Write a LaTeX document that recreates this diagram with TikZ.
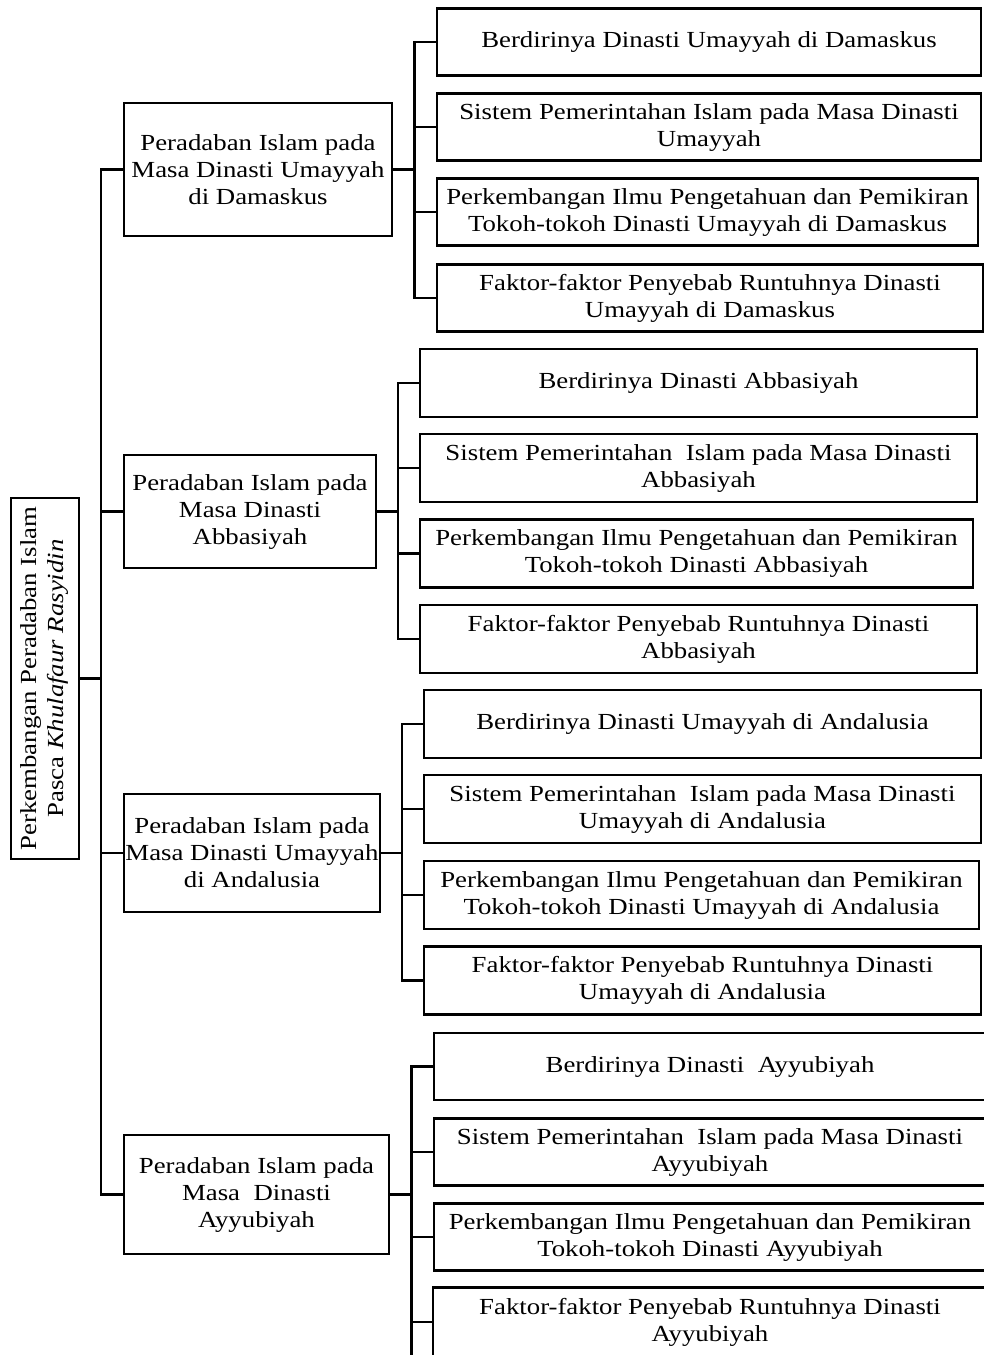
\documentclass[tikz,border=0pt]{standalone}
\usepackage{fontspec}
\setmainfont{Liberation Serif}[FakeStretch=1.165]
\begin{document}
\begin{tikzpicture}[x=1pt,y=-1pt,
  box/.style={draw=black, line width=2.2pt, rectangle, inner sep=0pt, align=center,
    font=\fontsize{23}{27}\selectfont},
  link/.style={draw=black, line width=2.4pt, line cap=rect}]
\useasboundingbox (0,0) rectangle (984,1355);
\clip (0,0) rectangle (984,1355);
% root
\node[box, rotate=90, minimum width=361pt, minimum height=68pt] (root) at (45,678.5)
  {Perkembangan Peradaban Islam\\Pasca \textit{Khulafaur Rasyidin}};
% level 1
\node[box, minimum width=268pt, minimum height=133pt] (La) at (258,169.5)
  {Peradaban Islam pada\\Masa Dinasti Umayyah\\di Damaskus};
\node[box, minimum width=252pt, minimum height=113pt] (Lb) at (250,511.5)
  {Peradaban Islam pada\\Masa Dinasti\\Abbasiyah};
\node[box, minimum width=256pt, minimum height=118pt] (Lc) at (252,853)
  {Peradaban Islam pada\\Masa Dinasti Umayyah\\di Andalusia};
\node[box, minimum width=265pt, minimum height=119pt] (Ld) at (256.5,1194.5)
  {Peradaban Islam pada\\Masa\ \ Dinasti\\Ayyubiyah};
% group a
\node[box, minimum width=544pt, minimum height=67pt] (a1) at (709,42)
  {Berdirinya Dinasti Umayyah di Damaskus};
\node[box, minimum width=544pt, minimum height=67pt] (a2) at (709,127)
  {Sistem Pemerintahan Islam pada Masa Dinasti\\Umayyah};
\node[box, minimum width=541pt, minimum height=67pt] (a3) at (707.5,212)
  {Perkembangan Ilmu Pengetahuan dan Pemikiran\\Tokoh-tokoh Dinasti Umayyah di Damaskus};
\node[box, minimum width=546pt, minimum height=67pt] (a4) at (710,298)
  {Faktor-faktor Penyebab Runtuhnya Dinasti\\Umayyah di Damaskus};
% group b
\node[box, minimum width=557pt, minimum height=68pt] (b1) at (698.5,383)
  {Berdirinya Dinasti Abbasiyah};
\node[box, minimum width=557pt, minimum height=68pt] (b2) at (698.5,468)
  {Sistem Pemerintahan\ \ Islam pada Masa Dinasti\\Abbasiyah};
\node[box, minimum width=553pt, minimum height=68pt] (b3) at (696.5,553.5)
  {Perkembangan Ilmu Pengetahuan dan Pemikiran\\Tokoh-tokoh Dinasti Abbasiyah};
\node[box, minimum width=557pt, minimum height=68pt] (b4) at (698.5,639)
  {Faktor-faktor Penyebab Runtuhnya Dinasti\\Abbasiyah};
% group c
\node[box, minimum width=557pt, minimum height=68pt] (c1) at (702.5,724)
  {Berdirinya Dinasti Umayyah di Andalusia};
\node[box, minimum width=557pt, minimum height=68pt] (c2) at (702.5,809)
  {Sistem Pemerintahan\ \ Islam pada Masa Dinasti\\Umayyah di Andalusia};
\node[box, minimum width=555pt, minimum height=68pt] (c3) at (701.5,895)
  {Perkembangan Ilmu Pengetahuan dan Pemikiran\\Tokoh-tokoh Dinasti Umayyah di Andalusia};
\node[box, minimum width=557pt, minimum height=68pt] (c4) at (702.5,980.5)
  {Faktor-faktor Penyebab Runtuhnya Dinasti\\Umayyah di Andalusia};
% group d
\node[box, minimum width=552pt, minimum height=67pt] (d1) at (710,1066.5)
  {Berdirinya Dinasti\ \ Ayyubiyah};
\node[box, minimum width=552pt, minimum height=67pt] (d2) at (710,1152)
  {Sistem Pemerintahan\ \ Islam pada Masa Dinasti\\Ayyubiyah};
\node[box, minimum width=552pt, minimum height=67pt] (d3) at (710,1237)
  {Perkembangan Ilmu Pengetahuan dan Pemikiran\\Tokoh-tokoh Dinasti Ayyubiyah};
\node[box, draw=none, minimum width=552pt, minimum height=67pt] (d4) at (710,1322)
  {Faktor-faktor Penyebab Runtuhnya Dinasti\\Ayyubiyah};
\draw[line width=2.2pt] ([yshift=-30pt]d4.south west) -- (d4.north west) -- (d4.north east) -- ([yshift=-30pt]d4.south east);
% trunk coordinates
\coordinate (T) at (101,0);
\coordinate (Ta) at (414.5,0);
\coordinate (Tb) at (398,0);
\coordinate (Tc) at (402,0);
\coordinate (Td) at (411.5,0);
\coordinate (dend) at (411.5,1370);
% main connectors
\draw[link] (root.south) -- (root.south -| T);
\draw[link] (La.west -| T) -- (Ld.west -| T);
\foreach \n in {La,Lb,Lc,Ld} \draw[link] (\n.west) -- (\n.west -| T);
% group connectors
\draw[link] (La.east) -- (La.east -| Ta);
\draw[link] (a1.west -| Ta) -- (a4.west -| Ta);
\foreach \n in {a1,a2,a3,a4} \draw[link] (\n.west) -- (\n.west -| Ta);
\draw[link] (Lb.east) -- (Lb.east -| Tb);
\draw[link] (b1.west -| Tb) -- (b4.west -| Tb);
\foreach \n in {b1,b2,b3,b4} \draw[link] (\n.west) -- (\n.west -| Tb);
\draw[link] (Lc.east) -- (Lc.east -| Tc);
\draw[link] (c1.west -| Tc) -- (c4.west -| Tc);
\foreach \n in {c1,c2,c3,c4} \draw[link] (\n.west) -- (\n.west -| Tc);
\draw[link] (Ld.east) -- (Ld.east -| Td);
\draw[link] (d1.west -| Td) -- (dend);
\foreach \n in {d1,d2,d3,d4} \draw[link] (\n.west) -- (\n.west -| Td);
\end{tikzpicture}
\end{document}
